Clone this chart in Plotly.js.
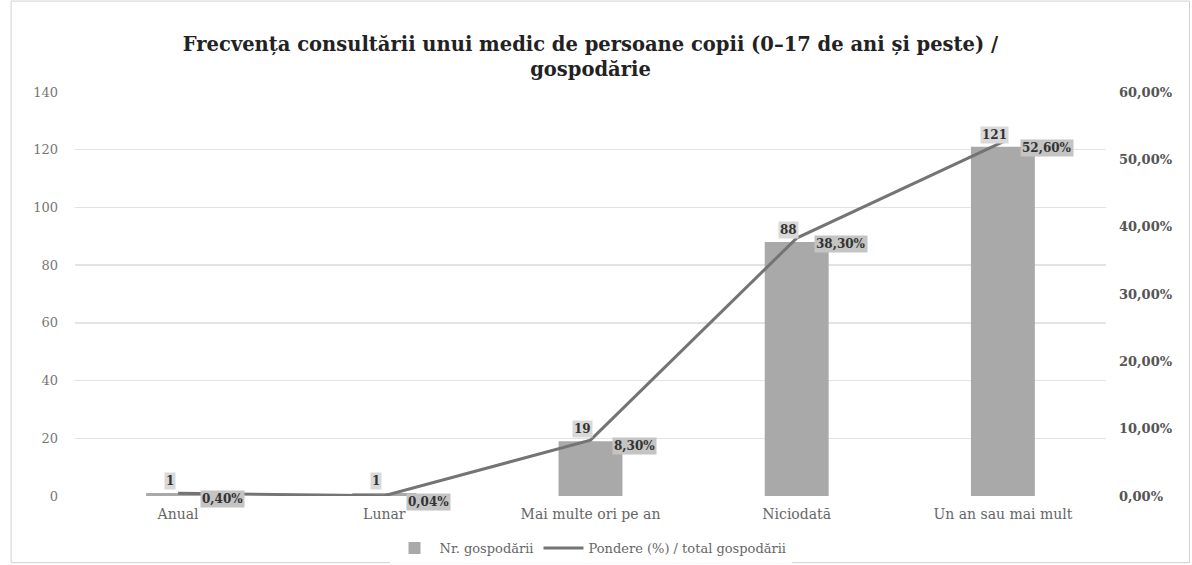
<!DOCTYPE html>
<html>
<head>
<meta charset="utf-8">
<script src="https://cdn.plot.ly/plotly-3.0.1.min.js"></script>
<style>html,body{margin:0;padding:0;background:#fff;}#chart{width:1192px;height:565px;}</style>
</head>
<body>
<div id="chart"></div>
<script>
const categories = ["Anual", "Lunar", "Mai multe ori pe an", "Niciodată", "Un an sau mai mult"];
const households = [1, 1, 19, 88, 121];
const sharePct = [0.40, 0.04, 8.30, 38.30, 52.60];
const leftTicks = [0, 20, 40, 60, 80, 100, 120, 140];
const rightTicks = [0, 10, 20, 30, 40, 50, 60];
const rightTickText = rightTicks.map(v => v.toFixed(2).replace(".", ",") + "%");

const serif = "DejaVu Serif, Liberation Serif, serif";

const barTrace = {
  type: "bar", name: "Nr. gospodării", x: categories, y: households,
  marker: { color: "#a9a9a9" }, yaxis: "y"
};
const lineTrace = {
  type: "scatter", mode: "lines", name: "Pondere (%) / total gospodării",
  x: categories, y: sharePct, yaxis: "y2",
  line: { color: "#747474", width: 3 }
};

const annotations = [];
categories.forEach((c, i) => {
  annotations.push({
    x: c, y: households[i], xref: "x", yref: "y",
    text: String(households[i]), showarrow: false,
    xshift: -8, yshift: 12,
    font: { family: serif, size: 12, color: "#333", weight: "bold" },
    bgcolor: "#d9d9d9", borderpad: 1
  });
  annotations.push({
    x: c, y: sharePct[i], xref: "x", yref: "y2",
    text: sharePct[i].toFixed(2).replace(".", ",") + "%", showarrow: false,
    xshift: 44, yshift: -6,
    font: { family: serif, size: 12, color: "#333", weight: "bold" },
    bgcolor: "#c4c4c4", borderpad: 1
  });
});

const layout = {
  width: 1192, height: 565,
  paper_bgcolor: "#ffffff", plot_bgcolor: "#ffffff",
  margin: { l: 75, r: 86, t: 92, b: 69, autoexpand: false },
  title: {
    text: "<b>Frecvența consultării unui medic de persoane copii (0–17 de ani și peste) /<br>gospodărie</b>",
    font: { family: serif, size: 19.5, color: "#222" },
    x: 0.5, xanchor: "center", xref: "paper",
    y: 0.91, yanchor: "top", yref: "container"
  },
  bargap: 0.69,
  showlegend: true,
  legend: {
    orientation: "h", x: 0.5, xanchor: "center", xref: "paper",
    y: 0.03, yanchor: "middle", yref: "container",
    font: { family: serif, size: 13, color: "#666" }, itemwidth: 40
  },
  xaxis: {
    type: "category", showgrid: false, zeroline: false, showline: false, automargin: false,
    ticks: "", tickfont: { family: serif, size: 14, color: "#666" }, ticklabelstandoff: 8
  },
  yaxis: {
    range: [0, 140], tickvals: leftTicks, showgrid: true, gridcolor: "#e3e3e3", gridwidth: 1.5,
    zeroline: false, showline: false, ticks: "", ticklabelstandoff: 16, automargin: false,
    tickfont: { family: serif, size: 13, color: "#777" }
  },
  yaxis2: {
    overlaying: "y", side: "right", range: [0, 60], tickvals: rightTicks, ticktext: rightTickText,
    showgrid: false, zeroline: false, showline: false, automargin: false,
    ticks: "", ticklabelstandoff: 12,
    tickfont: { family: serif, size: 13, color: "#555", weight: "bold" }
  },
  annotations: annotations,
  shapes: [{
    type: "rect", xref: "paper", yref: "paper",
    x0: -0.062, x1: 1.081, y0: -0.165, y1: 1.225,
    line: { color: "#d0d0d0", width: 1 }
  }]
};

Plotly.newPlot("chart", [barTrace, lineTrace], layout, { displayModeBar: false, staticPlot: true });
</script>
</body>
</html>
